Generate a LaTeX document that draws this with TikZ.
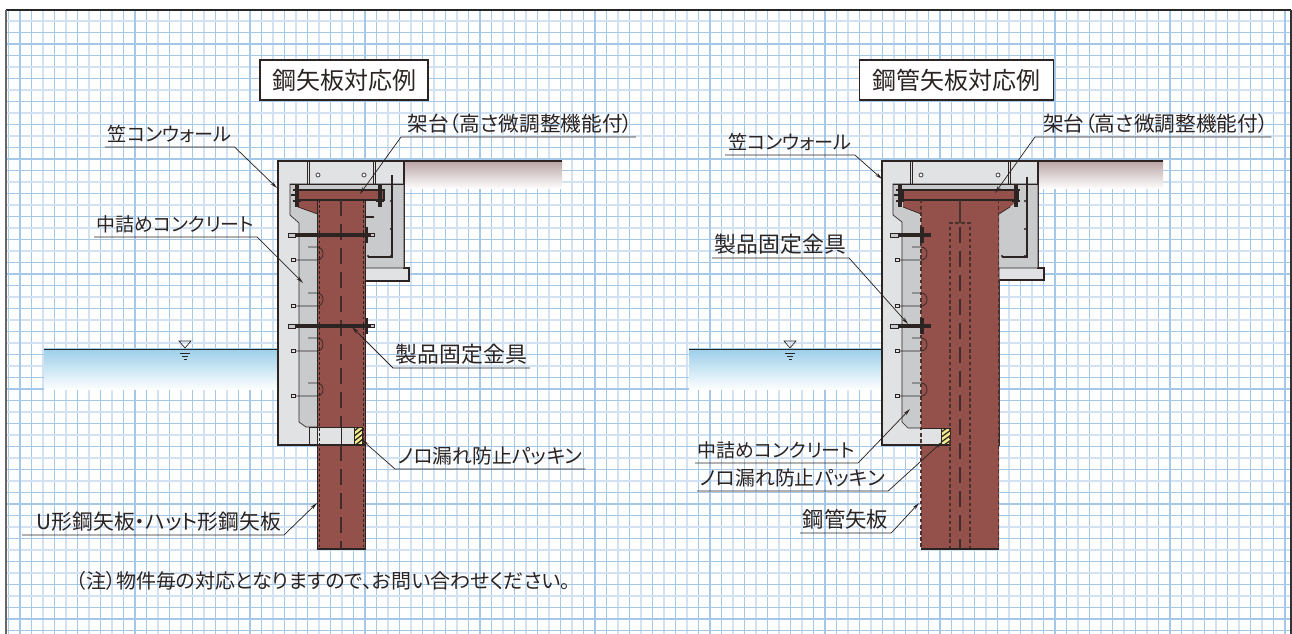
\documentclass[tikz,border=0pt]{standalone}
\usepackage{fontspec}
\setmainfont{Noto Sans CJK JP}[RawFeature=+palt]
\usetikzlibrary{arrows.meta}
\definecolor{gridA}{HTML}{A6C8E8}
\definecolor{gridB}{HTML}{D3E2F3}
\definecolor{ink}{HTML}{2B2422}
\definecolor{wallc}{HTML}{E1E2E3}
\definecolor{fillc}{HTML}{C9CACC}
\definecolor{pilec}{HTML}{94504A}
\definecolor{earth}{HTML}{B9A5A5}
\definecolor{water}{HTML}{9CCFEA}
\definecolor{packc}{HTML}{F1EC8C}
\tikzset{
  lbl/.style={text=ink, inner xsep=2pt, inner ysep=2.2pt, text height=11.5pt, text depth=1.6pt, font=\fontsize{#1}{18}\selectfont, anchor=south west},
  ttl/.style={draw=ink, line width=0.8pt, fill=white, text=ink, inner sep=0pt, font=\fontsize{18}{20}\selectfont},
  leader/.style={draw=ink, line width=0.55pt, -{Stealth[length=5.5pt,width=2.6pt]}},
  edge/.style={draw=ink, line width=0.9pt},
  thinline/.style={draw=ink, line width=0.5pt},
  boltline/.style={draw=ink, line width=3pt},
  centre/.style={draw=ink!80!pilec, line width=0.8pt, dash pattern=on 12pt off 6pt},
  seam/.style={draw=ink, line width=0.6pt, dash pattern=on 2.2pt off 1.6pt},
  tube/.style={draw=ink!70!pilec, line width=1pt, dash pattern=on 2.6pt off 2pt}
}
\begin{document}
\begin{tikzpicture}[x=0.75pt,y=-0.75pt]
  \useasboundingbox (0,0) rectangle (1292,634);
  \fill[white] (0,0) rectangle (1292,634);
  % grid
  \foreach \k in {-1,...,110}{
    \pgfmathsetmacro{\xk}{20+11.5*\k}
    \pgfmathtruncatemacro{\kk}{mod(\k+20,2)}
    \ifnum\kk=0 \draw[gridB, line width=1.3pt] (\xk,10) -- (\xk,634);
    \else \draw[gridA, line width=0.9pt] (\xk,10) -- (\xk,634); \fi
  }
  \foreach \k in {-2,...,51}{
    \pgfmathsetmacro{\yk}{44+11.5*\k}
    \pgfmathtruncatemacro{\kk}{mod(\k+20,2)}
    \ifnum\kk=0 \draw[gridB, line width=1.3pt] (6,\yk) -- (1292,\yk);
    \else \draw[gridA, line width=0.9pt] (6,\yk) -- (1292,\yk); \fi
  }
  \foreach \k in {0,10,...,110}{
    \draw[gridA, line width=1.4pt] ({20+11.5*\k},10) -- ({20+11.5*\k},634);
  }
  \foreach \k in {0,10,...,50}{
    \draw[gridA, line width=1.4pt] (6,{44+11.5*\k}) -- (1292,{44+11.5*\k});
  }
  \draw[black!85, line width=0.9pt] (6,10) -- (1291,10);
  \draw[black!60, line width=1.4pt] (6,10) -- (6,634);
  \draw[black!80, line width=1.2pt] (1291,10) -- (1291,634);

  % ground and water
  \foreach \xa/\xb in {404/562,1038/1163}{
    \shade[top color=earth, bottom color=white] (\xa,161) rectangle (\xb,189);
    \draw[edge] (\xa,161) -- (\xb,161);
  }
  \foreach \xa/\xb in {44/278,689/882}{
    \shade[top color=water, bottom color=white] (\xa,349) rectangle (\xb,390);
    \draw[thinline] (\xa,349) -- (\xb,349);
  }
  \foreach \xs in {185,790}{
    \draw[thinline] (\xs-6,341) -- (\xs+6,341) -- (\xs,348) -- cycle;
    \draw[thinline] (\xs-5,353) -- (\xs+5,353) (\xs-3,356) -- (\xs+3,356) (\xs-1.5,359) -- (\xs+1.5,359);
  }

  % steel sheet pile section
  \draw[edge, fill=wallc] (278,161) -- (404,161) -- (404,268) -- (409,268) -- (409,281) -- (365,281) -- (365,445) -- (278,445) -- cycle;
  \draw[thinline, fill=fillc] (290,184) -- (404,184) -- (404,268) -- (365,268) -- (365,427) -- (306,427) -- (299,422) -- (299,223) -- (290,215) -- cycle;
  \fill[wallc] (291,162) rectangle (403,183.5);
  \draw[thinline] (290,184) -- (404,184);
  \draw[thinline] (307,161) -- (307,184) (309,161) -- (309,184) (373,161) -- (373,184) (375,161) -- (375,184);
  \foreach \xc in {318,364}{ \draw[thinline, fill=white] (\xc,175) circle (2); }
  \fill[pilec] (298,190) -- (384,190) -- (384,200) -- (365.5,200) -- (365.5,549) -- (317.5,549) -- (317.5,214) -- (298,207) -- cycle;
  \draw[edge] (298,190) -- (384,190) -- (384,200) -- (298,200) -- cycle;
  \draw[thinline] (298,207) -- (317.5,214);
  \draw[edge] (317.5,200) -- (317.5,549) -- (365.5,549) -- (365.5,200);
  \fill[wallc] (309,427) rectangle (354,445);
  \draw[thinline] (309,427) -- (354,427) (309,427) -- (309,445) (317.5,427) -- (317.5,445) (341,427) -- (341,445);
  \fill[packc] (354,427) rectangle (362,445);
  \begin{scope}
    \clip (354,427) rectangle (362,445);
    \foreach \yh in {427,432,...,457}{ \draw[ink, line width=0.9pt] (353,\yh) -- (363,\yh-8); }
  \end{scope}
  \draw[thinline] (354,427) rectangle (362,445);
  \draw[edge] (278,445) -- (365,445);
  \foreach \xd in {319.8,363}{ \draw[seam] (\xd,200) -- (\xd,549); }
  \draw[centre] (341,200) -- (341,427) (341,445) -- (341,549);
  % hooks, bolts and bars
  \foreach \ya/\yb in {247/260,293/306,338/351,383/396}{
    \draw[thinline] (308,\ya) -- (317,\ya) .. controls (325,\ya) and (325,\yb) .. (317,\yb) -- (295,\yb);
    \draw[thinline] (291,\yb-1.5) rectangle (295,\yb+1.5);
  }
  \foreach \yb in {235,326}{
    \draw[boltline] (295,\yb) -- (370,\yb);
    \draw[thinline, fill=fillc] (288,\yb-2) rectangle (295,\yb+2) (370,\yb-1.5) rectangle (374,\yb+1.5);
    \draw[ink, line width=2.4pt] (366.5,\yb-8) -- (366.5,\yb+8);
  }
  \foreach \xb in {297,380}{
    \draw[boltline] (\xb,184) -- (\xb,207);
    \draw[boltline, line width=2pt] (\xb-4,190) -- (\xb+4,190) (\xb-4,201) -- (\xb+4,201);
  }
  \draw[boltline, line width=2pt] (291,195) -- (297,195);
  \draw[thinline, line width=0.8pt] (392,175) -- (392,257) -- (368,257);
  \draw[thinline, line width=0.8pt] (365.5,217) -- (374,217);
  \foreach \xd/\yd in {391/201,391/229,391/256,368/256}{ \fill[ink] (\xd,\yd) circle (1.2); }

  % steel pipe sheet pile section
  \draw[edge, fill=wallc] (882,161) -- (1038,161) -- (1038,268) -- (1044,268) -- (1044,280) -- (999,280) -- (999,445) -- (882,445) -- cycle;
  \draw[thinline, fill=fillc] (893,184) -- (1038,184) -- (1038,268) -- (999,268) -- (999,428) -- (908,428) -- (902,422) -- (902,222) -- (893,215) -- cycle;
  \fill[wallc] (894,162) rectangle (1037,183.5);
  \draw[thinline] (893,184) -- (1038,184);
  \draw[thinline] (910,161) -- (910,184) (912,161) -- (912,184) (1008,161) -- (1008,184) (1010,161) -- (1010,184);
  \foreach \xc in {921,998}{ \draw[thinline, fill=white] (\xc,175) circle (2); }
  \fill[pilec] (903,190) -- (1018,190) -- (1018,200) -- (1010,207) -- (999,214) -- (999,549) -- (921,549) -- (921,214) -- (903,207) -- cycle;
  \draw[edge] (903,190) -- (1018,190) -- (1018,200) -- (903,200) -- cycle;
  \draw[thinline] (903,207) -- (921,214) (999,214) -- (1010,207);
  \fill[wallc] (921,428) rectangle (941,445);
  \draw[thinline] (921,428) -- (941,428);
  \fill[packc] (941,428) rectangle (950,445);
  \begin{scope}
    \clip (941,428) rectangle (950,445);
    \foreach \yh in {428,433,...,458}{ \draw[ink, line width=0.9pt] (940,\yh) -- (951,\yh-8); }
  \end{scope}
  \draw[thinline] (941,428) rectangle (950,445);
  \draw[edge] (882,445) -- (950,445);
  \draw[tube] (921,200) -- (921,549) (998.5,200) -- (998.5,549);
  \draw[tube] (950,549) -- (950,223) -- (970,223) -- (970,549);
  \draw[ink, line width=0.8pt] (921,549) -- (999,549);
  \draw[ink!70!pilec, line width=1pt] (960,200) -- (960,223);
  \draw[centre, line width=1pt] (960,227) -- (960,549);
  % hooks, bolts and bars
  \foreach \ya/\yb in {247/260,293/306,338/351,383/396}{
    \draw[thinline] (912,\ya) -- (921,\ya) .. controls (929,\ya) and (929,\yb) .. (921,\yb) -- (899,\yb);
    \draw[thinline] (895,\yb-1.5) rectangle (899,\yb+1.5);
  }
  \foreach \yb in {235,326}{
    \draw[boltline] (898,\yb) -- (931,\yb);
    \draw[thinline, fill=fillc] (890,\yb-2) rectangle (898,\yb+2);
    \draw[ink, line width=3pt] (922,\yb-8) -- (922,\yb+8);
  }
  \foreach \xb in {900,1016}{
    \draw[boltline] (\xb,184) -- (\xb,207);
    \draw[boltline, line width=2pt] (\xb-4,190) -- (\xb+4,190) (\xb-4,201) -- (\xb+4,201);
  }
  \draw[boltline, line width=2pt] (894,195) -- (900,195);
  \draw[thinline, line width=0.8pt] (1027,177) -- (1027,257) -- (1002,257);
  \foreach \xd/\yd in {1025/201,1025/229,1025/256,1002/256}{ \fill[ink] (\xd,\yd) circle (1.2); }

  % titles and note
  \node[ttl, minimum width=126pt, minimum height=30pt] (titleL) at (344,80) {鋼矢板対応例};
  \node[ttl, minimum width=145pt, minimum height=30pt] (titleR) at (956.5,80) {鋼管矢板対応例};
  \node[text=ink, anchor=west, inner sep=0pt, font=\fontsize{15}{16}\selectfont] (note) at (76,581) {（注）物件毎の対応となりますので、お問い合わせください。};

  % targets
  \coordinate (kasaLt) at (277,188);
  \coordinate (kadaiLt) at (360,194);
  \coordinate (fillLt) at (303,283);
  \coordinate (fixLt) at (352,327);
  \coordinate (packLt) at (362,440);
  \coordinate (pileLt) at (317,503);
  \coordinate (kasaRt) at (882,179);
  \coordinate (kadaiRt) at (995,193);
  \coordinate (fixRt) at (908,324);
  \coordinate (fillRt) at (910,409);
  \coordinate (packRt) at (942,442);
  \coordinate (pileRt) at (919,503);

  % left labels
  \node[lbl=14.4, minimum width=96pt] (kasaL) at (105,147) {笠コンウォール};
  \node[lbl=15.5, minimum width=173pt] (kadaiL) at (401,137) {\hspace{3pt}架台（高さ微調整機能付）};
  \node[lbl=14.2, minimum width=120.5pt] (fillL) at (94,237) {中詰めコンクリート};
  \node[lbl=16.4, minimum width=99pt] (fixL) at (393,368) {製品固定金具};
  \node[lbl=14.9, minimum width=141pt] (packL) at (395,469) {ノロ漏れ防止パッキン};
  \node[lbl=15.6, minimum width=196pt] (pileL) at (22,535) {\hspace{9pt}U形鋼矢板・ハット形鋼矢板};
  \draw[leader] (kasaL.south west) -- (kasaL.south east) -- (kasaLt);
  \draw[leader] (kadaiL.south east) -- (kadaiL.south west) -- (kadaiLt);
  \draw[leader] (fillL.south west) -- (fillL.south east) -- (fillLt);
  \draw[leader] (fixL.south east) -- (fixL.south west) -- (fixLt);
  \draw[leader] (packL.south east) -- (packL.south west) -- (packLt);
  \draw[leader] (pileL.south west) -- (pileL.south east) -- (pileLt);

  % right labels
  \node[lbl=14.4, minimum width=97pt] (kasaR) at (725,155) {笠コンウォール};
  \node[lbl=15.5, minimum width=175pt] (kadaiR) at (1035,137) {\hspace{4pt}架台（高さ微調整機能付）};
  \node[lbl=16.4, minimum width=96pt] (fixR) at (712,258) {製品固定金具};
  \node[lbl=14.2, minimum width=118pt] (fillR) at (695,463) {中詰めコンクリート};
  \node[lbl=14.9, minimum width=143pt] (packR) at (697,491) {ノロ漏れ防止パッキン};
  \node[lbl=16, minimum width=65pt] (pileR) at (800,533) {鋼管矢板};
  \draw[leader] (kasaR.south west) -- (kasaR.south east) -- (kasaRt);
  \draw[leader] (kadaiR.south east) -- (kadaiR.south west) -- (kadaiRt);
  \draw[leader] (fixR.south west) -- (fixR.south east) -- (fixRt);
  \draw[leader] (fillR.south west) -- (fillR.south east) -- (fillRt);
  \draw[leader] (packR.south west) -- (packR.south east) -- (packRt);
  \draw[leader] (pileR.south west) -- (pileR.south east) -- (pileRt);
\end{tikzpicture}
\end{document}
